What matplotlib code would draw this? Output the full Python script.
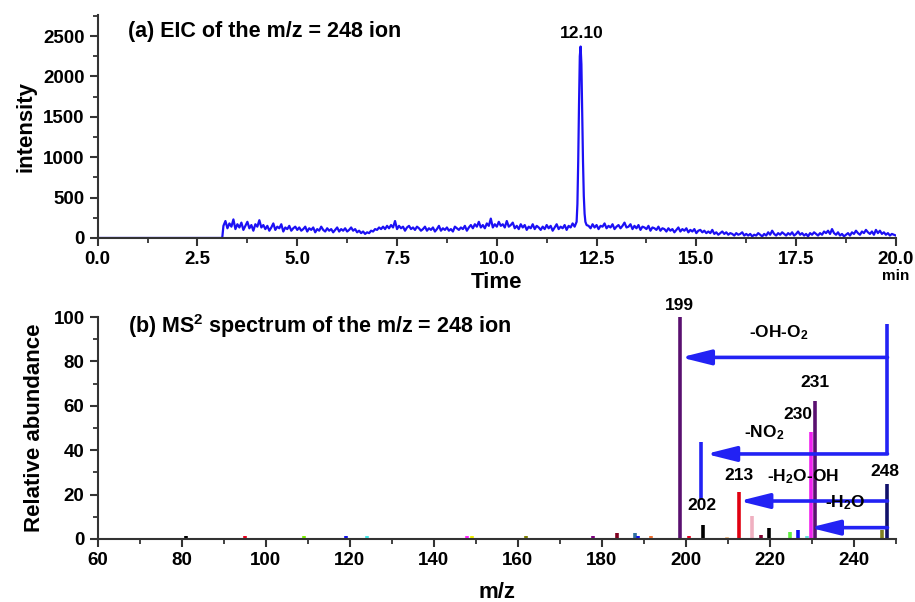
import numpy as np
import matplotlib
matplotlib.use("Agg")
import matplotlib.pyplot as plt
from matplotlib.ticker import MultipleLocator

plt.rcParams['font.family'] = ['Liberation Sans', 'DejaVu Sans']
plt.rcParams['font.weight'] = 'bold'
plt.rcParams['mathtext.fontset'] = 'custom'
plt.rcParams['mathtext.rm'] = 'Liberation Sans:bold'
plt.rcParams['mathtext.bf'] = 'Liberation Sans:bold'
plt.rcParams['mathtext.it'] = 'Liberation Sans:bold'

# ---------------- (a) EIC data ----------------
flat_time = [0.0, 3.12]
flat_int = [0, 0]

noiseA_start = 3.15
noiseA_int = [
    150, 210, 120, 180, 140, 230, 110, 170, 130, 190, 100, 150, 200, 120, 160, 90, 170, 140, 220, 130,
    160, 110, 150, 90, 130, 180, 100, 140, 120, 170, 80, 130, 110, 150, 90, 120, 140, 100, 130, 90,
    110, 140, 80, 120, 100, 130, 70, 110, 90, 140, 100, 80, 120, 90, 110, 70, 100, 130, 80, 110,
    90, 120, 80, 100, 130, 90, 110, 70, 90, 60, 80, 50, 70, 60, 90, 80, 110, 100, 130, 110,
    140, 110, 150, 120, 160, 130, 210, 110, 150, 120, 140, 90, 130, 150, 110, 130, 100, 140, 120, 90,
    110, 140, 90, 120, 100, 130, 80, 110, 150, 90, 120, 100, 130, 90, 110, 80, 140, 120, 100, 130,
    110, 150, 90, 130, 160, 120, 170, 140, 200, 130, 160, 120, 180, 150, 240, 130, 170, 140, 200, 150,
    170, 130, 210, 140, 160, 190, 120, 150, 110, 170, 130, 160, 100, 140, 120, 170, 110, 150, 130, 100,
    140, 110, 160, 120, 150, 90, 130, 170, 110, 140, 120, 160, 100, 150, 130, 180, 140,
]

peak_time = [12.00, 12.02, 12.04, 12.06, 12.08, 12.10, 12.12, 12.14, 12.16, 12.18, 12.20, 12.22, 12.25]
peak_int = [200, 420, 950, 1650, 2250, 2370, 2150, 1550, 950, 520, 300, 200, 160]

noiseB_start = 12.30
noiseB_int = [
    150, 120, 170, 130, 160, 110, 150, 140, 180, 120, 150, 130, 170, 110, 140, 160, 120, 150, 190, 130,
    140, 170, 110, 150, 120, 160, 100, 140, 130, 110, 150, 90, 130, 120, 100, 140, 90, 120, 110, 80,
    120, 90, 110, 70, 100, 130, 80, 110, 90, 120, 70, 100, 80, 110, 60, 90, 100, 70, 90, 60,
    80, 60, 100, 50, 70, 40, 60, 80, 50, 70, 40, 60, 50, 30, 60, 40, 50, 70, 30, 50,
    30, 50, 20, 40, 30, 60, 40, 20, 50, 30, 70, 40, 90, 50, 30, 60, 40, 70, 50, 30,
    60, 40, 70, 30, 50, 80, 40, 60, 30, 50, 20, 60, 40, 70, 50, 30, 60, 40, 80, 60,
    90, 50, 110, 60, 40, 70, 30, 50, 20, 40, 60, 30, 70, 50, 90, 60, 40, 80, 60, 100,
    70, 50, 80, 40, 100, 60, 90, 50, 70, 40, 60, 30, 50, 40, 30,
]
step = 0.05

# ---------------- (b) MS2 data ----------------
ms_mz = [81, 95, 109, 119, 124, 148, 149, 162, 172.6, 177.8, 183.7, 186.8, 187.9, 188.7, 191.8,
         198.6, 200.8, 204, 209.8, 212.7, 215.7, 217.8, 219.8, 220.8, 224.8, 226.8, 228.8, 229.7,
         230.7, 246.7, 247.9]
ms_int = [1.5, 1.5, 1.5, 1.3, 1.3, 1.5, 1.3, 1.2, 0.4, 1.5, 2.6, 0.5, 2.6, 1.3, 1.2,
          100, 1.5, 6.3, 1.0, 21.0, 10.4, 2.0, 5.1, 0.6, 3.1, 4.0, 1.3, 48.3,
          62.3, 4.0, 24.6]
ms_color = ['black', '#e8001c', '#7cf000', '#1010e8', '#40e8e8', '#ff20ff', '#f0f000', '#808000',
            '#1010e8', '#800080', '#800020', '#80e000', '#3070a0', '#1010e8', '#f07030',
            '#5a1070', '#e8001c', 'black', '#f0c090', '#e00010', '#f0b0c0', '#800030', 'black',
            '#e8001c', '#60f040', '#1010f0', '#60e0e0', '#f020f0',
            '#5a1070', '#808020', '#10106a']

peak_labels = ['199', '202', '213', '230', '231', '248']
peak_label_x = [198.5, 203.9, 212.7, 226.6, 230.7, 247.4]
peak_label_y = [105.4, 15.3, 28.8, 55.9, 70.7, 30.2]

loss_labels = ['-OH-O$_2$', '-NO$_2$', '-H$_2$O-OH', '-H$_2$O']
loss_label_x = [222.1, 218.6, 227.9, 238.0]
loss_label_y = [92.8, 48.0, 27.9, 16.2]
loss_from = [248, 248, 248, 248]
loss_to = [198.8, 204.8, 212.7, 229.5]
loss_level = [81.8, 38.3, 17.1, 5.1]

# ---------------- figure ----------------
fig = plt.figure(figsize=(9.15, 6.02), dpi=100)
ax1 = fig.add_axes([0.1068, 0.6047, 0.8723, 0.3703])
ax2 = fig.add_axes([0.1068, 0.1047, 0.8723, 0.3687])

trace_color = '#1c10f4'
tA = noiseA_start + step * np.arange(len(noiseA_int))
tB = noiseB_start + step * np.arange(len(noiseB_int))
t_all = np.concatenate([flat_time, tA, peak_time, tB])
i_all = np.concatenate([flat_int, noiseA_int, peak_int, noiseB_int])
order = np.argsort(t_all, kind='stable')
ax1.plot(t_all[order], i_all[order], color=trace_color, lw=1.6)

TICK_FS = 13.5
for ax in (ax1, ax2):
    for s in ('top', 'right'):
        ax.spines[s].set_visible(False)
    for s in ('left', 'bottom'):
        ax.spines[s].set_linewidth(1.5)
        ax.spines[s].set_color('#333333')
    ax.tick_params(which='major', direction='out', length=6, width=1.5, color='#333333',
                   labelsize=TICK_FS)
    ax.tick_params(which='minor', direction='out', length=3.5, width=1.3, color='#333333')

ax1.set_xlim(0, 20)
ax1.set_ylim(0, 2760)
ax1.xaxis.set_minor_locator(MultipleLocator(1.25))
ax1.yaxis.set_minor_locator(MultipleLocator(250))
ax1.set_xticks(np.arange(0, 20.01, 2.5))
ax1.set_xticklabels([f'{v:.1f}' for v in np.arange(0, 20.01, 2.5)], fontweight='bold')
ax1.set_yticks(np.arange(0, 2501, 500))
ax1.set_yticklabels([str(v) for v in range(0, 2501, 500)], fontweight='bold')
ax1.set_xlabel('Time', fontsize=16, fontweight='bold', labelpad=3)
ax1.set_ylabel('intensity', fontsize=16, fontweight='bold', labelpad=5)
ax1.text(0.038, 0.924, '(a) EIC of the m/z = 248 ion', transform=ax1.transAxes,
         ha='left', va='center', fontsize=15.5, fontweight='bold')
ax1.text(12.12, 2530, '12.10', ha='center', va='center', fontsize=12.5, fontweight='bold')
ax1.text(1.0, -0.17, 'min', transform=ax1.transAxes, ha='center', va='center',
         fontsize=11, fontweight='bold')

# bottom panel
ax2.set_xlim(60, 250)
ax2.set_ylim(0, 100)
ax2.set_xticks(np.arange(60, 241, 20))
ax2.set_xticklabels([str(v) for v in range(60, 241, 20)], fontweight='bold')
ax2.xaxis.set_minor_locator(MultipleLocator(10))
ax2.set_yticks(np.arange(0, 101, 20))
ax2.set_yticklabels([str(v) for v in range(0, 101, 20)], fontweight='bold')
ax2.yaxis.set_minor_locator(MultipleLocator(10))
ax2.vlines(ms_mz, 0, ms_int, colors=ms_color, lw=2.6)
ax2.set_xlabel('m/z', fontsize=16, fontweight='bold', labelpad=9)
ax2.set_ylabel('Relative abundance', fontsize=16, fontweight='bold', labelpad=6)
ax2.text(0.038, 0.96, '(b) MS$^2$ spectrum of the m/z = 248 ion', transform=ax2.transAxes,
         ha='left', va='center', fontsize=15.5, fontweight='bold')

arrow_color = '#2222f4'
ax2.plot([248, 248], [loss_level[1], 96.8], color=arrow_color, lw=2.6, solid_capstyle='butt')
ax2.plot([203.7, 203.7], [17.6, 43.8], color=arrow_color, lw=2.6, solid_capstyle='butt')
for x0, x1, yv in zip(loss_from, loss_to, loss_level):
    ax2.annotate('', xy=(x1, yv), xytext=(x0, yv),
                 arrowprops=dict(arrowstyle='-|>,head_length=1.8,head_width=0.45',
                                 mutation_scale=10, color=arrow_color, lw=2.6,
                                 shrinkA=0, shrinkB=0))

for lab, x, y in zip(peak_labels, peak_label_x, peak_label_y):
    ax2.text(x, y, lab, ha='center', va='center', fontsize=12.5, fontweight='bold', clip_on=False)
for lab, x, y in zip(loss_labels, loss_label_x, loss_label_y):
    ax2.text(x, y, lab, ha='center', va='center', fontsize=12.5, fontweight='bold')

fig.savefig('out.png', dpi=100, facecolor='white')
